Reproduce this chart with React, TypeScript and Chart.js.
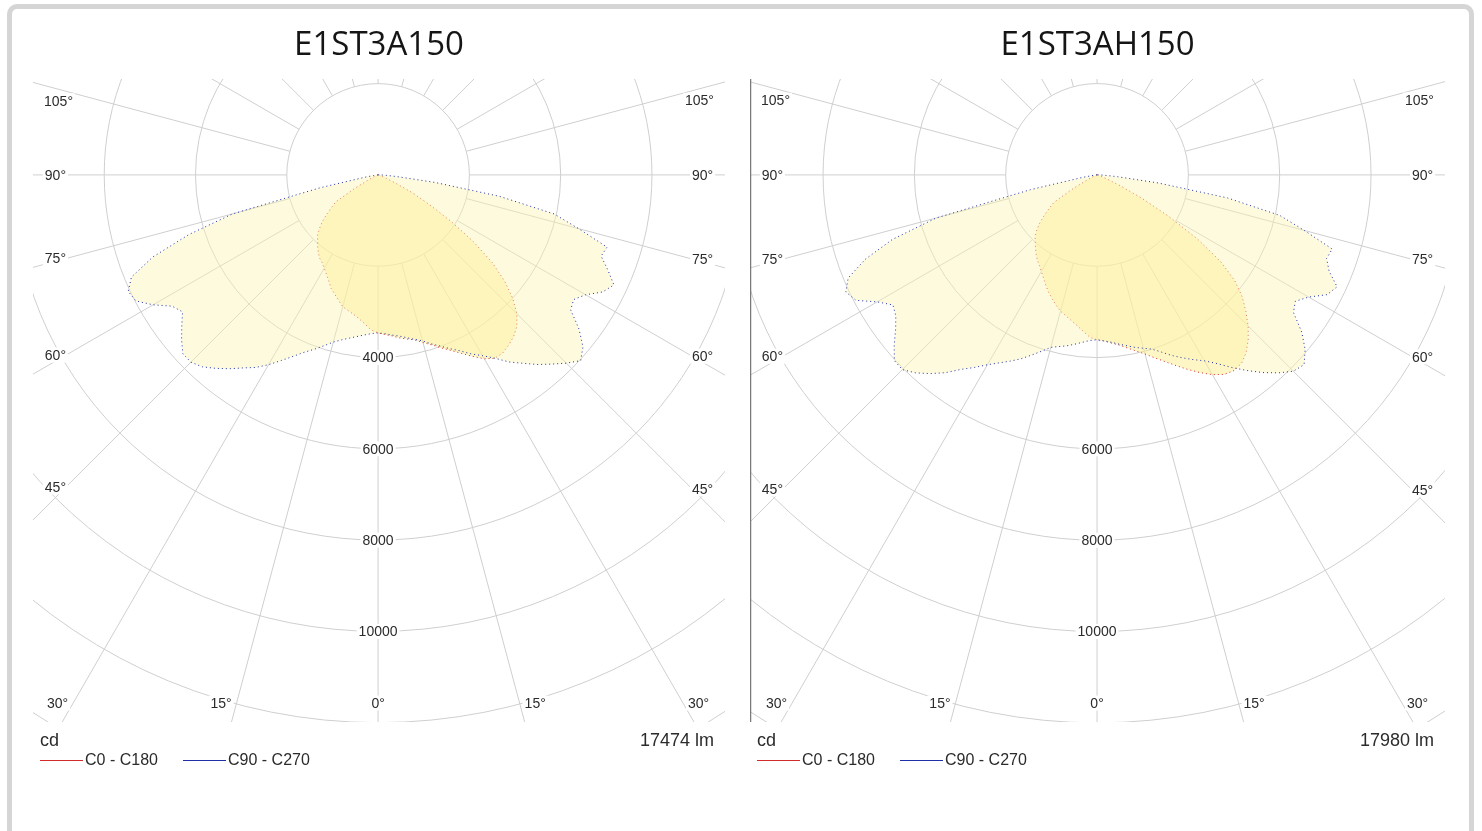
import React, { useEffect, useRef } from "react";
import { Chart, registerables } from "chart.js";

Chart.register(...registerables);

// ---------- data ----------
const GAMMA = [
  0, 2.5, 5, 7.5, 10, 12.5, 15, 17.5, 20, 22.5, 25, 27.5, 30, 32.5, 35, 37.5, 40, 42.5, 45,
  47.5, 50, 52.5, 55, 57.5, 60, 62.5, 65, 67.5, 70, 72.5, 75, 77.5, 80, 82.5, 85, 87.5, 90,
];

// E1ST3A150 (cd)
const A_C0 = [
  3460, 3500, 3540, 3600, 3650, 3700, 3800, 3900, 4030, 4160, 4310, 4480, 4650, 4760, 4760,
  4700, 4620, 4500, 4300, 4000, 3620, 3150, 2550, 1900, 1300, 850, 400, 200, 100, 60, 40, 30,
  20, 15, 10, 5, 0,
];
const A_C180 = [
  3460, 3400, 3280, 3180, 3100, 3040, 2990, 2880, 2780, 2690, 2560, 2450, 2360, 2280, 2230,
  2150, 2060, 1960, 1880, 1740, 1600, 1420, 1250, 1100, 600, 250, 120, 80, 50, 40, 30, 20, 15,
  10, 5, 0, 0,
];
const A_C90 = [
  3460, 3480, 3520, 3560, 3620, 3690, 3760, 3880, 3990, 4120, 4250, 4420, 4570, 4760, 5000,
  5200, 5420, 5620, 5830, 6020, 5860, 5550, 5150, 5080, 5250, 5550, 5700, 5450, 5200, 5260,
  4550, 3950, 2700, 1250, 400, 150, 50,
];
const A_C270 = [
  3460, 3480, 3520, 3570, 3630, 3700, 3790, 3920, 4060, 4200, 4380, 4580, 4800, 5000, 5160,
  5350, 5530, 5700, 5800, 5800, 5620, 5420, 5230, 5350, 5690, 5980, 6040, 5850, 5250, 4350,
  3300, 1300, 300, 100, 50, 20, 0,
];

// E1ST3AH150 (cd)
const B_C0 = [
  3610, 3640, 3700, 3760, 3850, 3950, 4060, 4200, 4350, 4520, 4700, 4880, 5050, 5180, 5230,
  5200, 5080, 4900, 4680, 4420, 4150, 3800, 3300, 2600, 1800, 1100, 550, 250, 120, 80, 60, 40,
  30, 20, 10, 5, 0,
];
const B_C180 = [
  3610, 3560, 3440, 3330, 3240, 3160, 3090, 2990, 2880, 2780, 2660, 2540, 2440, 2350, 2280,
  2190, 2100, 2000, 1920, 1790, 1640, 1460, 1280, 1120, 650, 280, 130, 80, 50, 40, 30, 20, 15,
  10, 5, 0, 0,
];
const B_C90 = [
  3610, 3640, 3680, 3740, 3800, 3870, 3930, 4000, 4130, 4280, 4420, 4560, 4700, 4900, 5150,
  5400, 5650, 5880, 6080, 6150, 5950, 5650, 5250, 5150, 5350, 5680, 5800, 5500, 5350, 5400,
  4700, 4100, 2900, 1350, 450, 160, 50,
];
const B_C270 = [
  3610, 3630, 3680, 3740, 3800, 3850, 3910, 4050, 4200, 4360, 4500, 4640, 4800, 5000, 5200,
  5460, 5680, 5880, 6030, 6020, 5800, 5560, 5380, 5300, 5560, 5950, 6070, 5900, 5400, 4700,
  3650, 1500, 350, 120, 50, 20, 0,
];

const RING_VALUES = [2000, 4000, 6000, 8000, 10000, 12000, 14000];
const RING_LABELS_A = [4000, 6000, 8000, 10000];
const RING_LABELS_B = [6000, 8000, 10000];
const RAY_ANGLES = [0, 15, 30, 45, 60, 75, 90, 105, 120, 135, 150, 165, 180];
const ANGLE_LABELS = [0, 15, 30, 45, 60, 75, 90, 105];
const SERIES_NAMES = ["C0 - C180", "C90 - C270"];

// ---------- styling ----------
const GRID_COLOR = "#cfcfcf";
const TEXT_COLOR = "#2b2b2b";
const LABEL_FONT = '14px "Liberation Sans", Arial, sans-serif';
const FOOT_FONT = '18px "Liberation Sans", Arial, sans-serif';
const LEGEND_FONT = '16px "Liberation Sans", Arial, sans-serif';
const RED = "#d42a2a";
const BLUE = "#1f2fa8";

function polygon(gammas: number[], leftSide: number[], rightSide: number[]) {
  const pts: { x: number; y: number }[] = [];
  for (let i = gammas.length - 1; i >= 0; i--) {
    const g = (gammas[i] * Math.PI) / 180;
    pts.push({ x: -leftSide[i] * Math.sin(g), y: -leftSide[i] * Math.cos(g) });
  }
  for (let i = 1; i < gammas.length; i++) {
    const g = (gammas[i] * Math.PI) / 180;
    pts.push({ x: rightSide[i] * Math.sin(g), y: -rightSide[i] * Math.cos(g) });
  }
  pts.push({ ...pts[0] });
  return pts;
}

function labelBox(ctx: CanvasRenderingContext2D, text: string, x: number, y: number, align: CanvasTextAlign, baseline: CanvasTextBaseline) {
  ctx.textAlign = align;
  ctx.textBaseline = "middle";
  const w = ctx.measureText(text).width;
  const h = 13;
  let left = x;
  if (align === "center") left = x - w / 2;
  else if (align === "right") left = x - w;
  const cyText = baseline === "top" ? y + h / 2 : y;
  ctx.fillStyle = "#ffffff";
  ctx.fillRect(left - 2, cyText - h / 2 - 1, w + 4, h + 2);
  ctx.fillStyle = TEXT_COLOR;
  ctx.fillText(text, x, cyText + 1);
}

const polarPlugin = {
  id: "polarPhoto",
  beforeDatasetsDraw(chart: any, _args: any, opts: any) {
    const { ctx, chartArea: a, scales } = chart;
    const xs = scales.x;
    const ys = scales.y;
    const cx = xs.getPixelForValue(0);
    const cy = ys.getPixelForValue(0);
    const rad = (v: number) => xs.getPixelForValue(v) - cx;
    ctx.save();
    ctx.beginPath();
    ctx.rect(a.left, a.top, a.right - a.left, a.bottom - a.top);
    ctx.clip();
    ctx.strokeStyle = GRID_COLOR;
    ctx.lineWidth = 1;
    for (const v of RING_VALUES) {
      ctx.beginPath();
      ctx.arc(cx, cy, rad(v), 0, Math.PI * 2);
      ctx.stroke();
    }
    const r0 = rad(RING_VALUES[0]);
    const r1 = rad(40000);
    for (const ang of RAY_ANGLES) {
      for (const side of ang === 0 || ang === 180 ? [0] : [-1, 1]) {
        const t = (ang * Math.PI) / 180;
        const ux = side * Math.sin(t);
        const uy = Math.cos(t);
        ctx.beginPath();
        ctx.moveTo(cx + ux * r0, cy + uy * r0);
        ctx.lineTo(cx + ux * r1, cy + uy * r1);
        ctx.stroke();
      }
    }
    if (opts.axisLine) {
      ctx.strokeStyle = "#7a7a7a";
      ctx.lineWidth = 1.5;
      ctx.beginPath();
      ctx.moveTo(a.left + 0.5, a.top);
      ctx.lineTo(a.left + 0.5, a.bottom);
      ctx.stroke();
    }
    ctx.restore();
  },
  afterDatasetsDraw(chart: any, _args: any, opts: any) {
    const { ctx, chartArea: a, scales } = chart;
    const xs = scales.x;
    const ys = scales.y;
    const cx = xs.getPixelForValue(0);
    const cy = ys.getPixelForValue(0);
    const rad = (v: number) => xs.getPixelForValue(v) - cx;
    ctx.save();
    ctx.font = LABEL_FONT;
    for (const v of opts.ringLabels as number[]) {
      labelBox(ctx, String(v), cx, cy + rad(v), "center", "middle");
    }
    const inL = a.left + 33;
    const inR = a.right - 33;
    const inB = a.bottom - 19;
    for (const ang of ANGLE_LABELS) {
      for (const side of ang === 0 ? [0] : [-1, 1]) {
        const t = (ang * Math.PI) / 180;
        const ux = side * Math.sin(t);
        const uy = Math.cos(t);
        const sx = ux === 0 ? Infinity : ux < 0 ? (cx - inL) / -ux : (inR - cx) / ux;
        const sy = uy > 0 ? (inB - cy) / uy : Infinity;
        const text = `${ang}°`;
        if (sy < sx) {
          const px = cx + ux * sy + side * 5;
          labelBox(ctx, text, px, inB, side < 0 ? "right" : side > 0 ? "left" : "center", "middle");
        } else {
          const py = cy + uy * sx;
          if (uy < -0.01) {
            const px = side < 0 ? inL + 7 : inR - 7;
            labelBox(ctx, text, px, py + 3, side < 0 ? "right" : "left", "top");
          } else {
            const px = side < 0 ? inL : inR;
            labelBox(ctx, text, px, py, side < 0 ? "right" : "left", "middle");
          }
        }
      }
    }
    // footer
    ctx.font = FOOT_FONT;
    ctx.fillStyle = TEXT_COLOR;
    ctx.textBaseline = "middle";
    ctx.textAlign = "left";
    ctx.fillText("cd", a.left + 7, a.bottom + 19);
    ctx.textAlign = "right";
    ctx.fillText(opts.flux, a.right - 11, a.bottom + 19);
    const ly = a.bottom + 38;
    const items = [
      { name: SERIES_NAMES[0], color: RED, x: a.left + 7 },
      { name: SERIES_NAMES[1], color: BLUE, x: a.left + 150 },
    ];
    for (const it of items) {
      ctx.strokeStyle = it.color;
      ctx.lineWidth = 1.2;
      ctx.beginPath();
      ctx.moveTo(it.x, ly + 0.5);
      ctx.lineTo(it.x + 43, ly + 0.5);
      ctx.stroke();
      ctx.textAlign = "left";
      ctx.fillStyle = TEXT_COLOR;
      ctx.font = LEGEND_FONT;
      ctx.fillText(it.name, it.x + 45, ly + 1);
    }
    ctx.restore();
  },
};

type PanelProps = {
  title: string;
  flux: string;
  c0: number[];
  c180: number[];
  c90: number[];
  c270: number[];
  ringLabels: number[];
  xMin: number;
  xMax: number;
  padLeft: number;
  padRight: number;
  axisLine: boolean;
  width: number;
};

function PolarPanel(p: PanelProps) {
  const ref = useRef<HTMLCanvasElement | null>(null);
  useEffect(() => {
    if (!ref.current) return;
    const chart = new Chart(ref.current, {
      type: "scatter",
      data: {
        datasets: [
          {
            label: SERIES_NAMES[1],
            data: polygon(GAMMA, p.c270, p.c90),
            showLine: true,
            borderColor: BLUE,
            borderWidth: 1,
            borderDash: [1, 3],
            backgroundColor: "rgba(250, 244, 175, 0.42)",
            fill: "shape",
            pointRadius: 0,
            tension: 0,
          },
          {
            label: SERIES_NAMES[0],
            data: polygon(GAMMA, p.c180, p.c0),
            showLine: true,
            borderColor: RED,
            borderWidth: 1,
            borderDash: [1, 3],
            backgroundColor: "rgba(255, 238, 140, 0.5)",
            fill: "shape",
            pointRadius: 0,
            tension: 0,
          },
        ],
      },
      options: {
        animation: false,
        responsive: false,
        devicePixelRatio: 1,
        layout: { padding: { left: p.padLeft, right: p.padRight, top: 0, bottom: 77 } },
        scales: {
          x: { type: "linear", display: false, min: p.xMin, max: p.xMax },
          y: { type: "linear", display: false, min: -11980, max: 2100 },
        },
        plugins: {
          legend: { display: false },
          tooltip: { enabled: false },
          title: {
            display: true,
            text: p.title,
            color: "#151515",
            font: { family: '"Open Sans", sans-serif', size: 33, weight: "normal", lineHeight: 1.2 },
            padding: { top: 17, bottom: 13.4 },
          },
          polarPhoto: { ringLabels: p.ringLabels, flux: p.flux, axisLine: p.axisLine },
        } as any,
      },
      plugins: [polarPlugin],
    });
    return () => chart.destroy();
  }, []);
  return <canvas ref={ref} width={p.width} height={790} style={{ display: "block", width: p.width, height: 790 }} />;
}

export default function App() {
  return (
    <div style={{ position: "absolute", left: 0, top: 0, width: 1482, height: 831, overflow: "hidden", background: "#fff" }}>
      <div
        style={{
          position: "absolute",
          left: 7,
          top: 4,
          width: 1467,
          height: 900,
          border: "5px solid #d5d5d5",
          borderRadius: 10,
          boxSizing: "border-box",
        }}
      />
      <div style={{ position: "absolute", left: 13, top: 9 }}>
        <PolarPanel
          title="E1ST3A150"
          flux="17474 lm"
          c0={A_C0}
          c180={A_C180}
          c90={A_C90}
          c270={A_C270}
          ringLabels={RING_LABELS_A}
          xMin={-7560}
          xMax={7600}
          padLeft={20}
          padRight={15}
          axisLine={false}
          width={727}
        />
      </div>
      <div style={{ position: "absolute", left: 740, top: 9 }}>
        <PolarPanel
          title="E1ST3AH150"
          flux="17980 lm"
          c0={B_C0}
          c180={B_C180}
          c90={B_C90}
          c270={B_C270}
          ringLabels={RING_LABELS_B}
          xMin={-7600}
          xMax={7620}
          padLeft={10}
          padRight={24}
          axisLine={true}
          width={729}
        />
      </div>
    </div>
  );
}
